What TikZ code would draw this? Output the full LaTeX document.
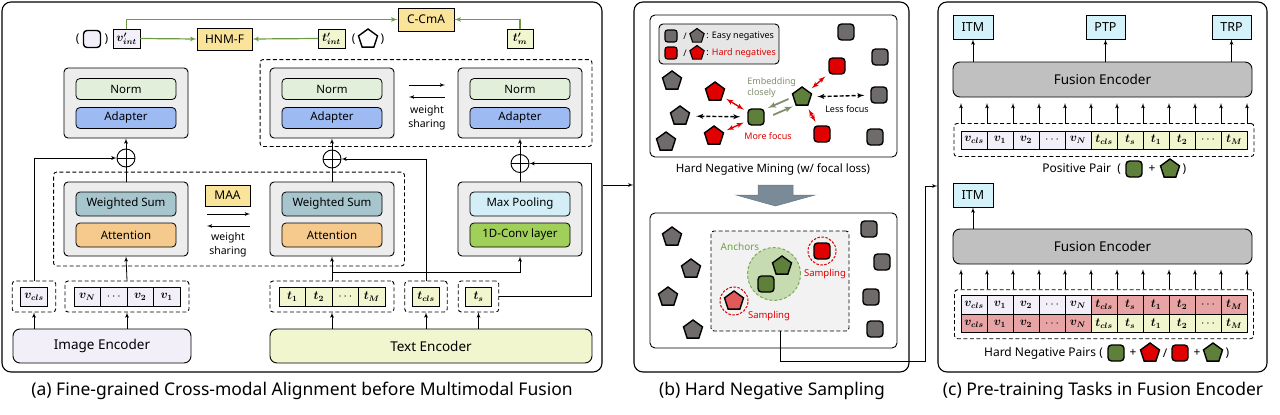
\documentclass[tikz,border=0pt]{standalone}
\usepackage{fontspec}
\setmainfont{Noto Sans}
\usepackage{bm}
\usepackage{xcolor}
\usepackage{tikz}
\usetikzlibrary{positioning,shapes,shapes.geometric,arrows,fit,calc}

\definecolor{lav}{HTML}{F3EFF8}
\definecolor{lime}{HTML}{F2F6CE}
\definecolor{gold}{HTML}{FAE49A}
\definecolor{normc}{HTML}{E2EFDA}
\definecolor{adapc}{HTML}{9DBAF2}
\definecolor{wsum}{HTML}{A7C5CD}
\definecolor{attn}{HTML}{F5CA8C}
\definecolor{maxp}{HTML}{D4EEF8}
\definecolor{conv}{HTML}{A0D05A}
\definecolor{boxg}{HTML}{EDEDED}
\definecolor{lineg}{HTML}{6E9A43}
\definecolor{easy}{HTML}{6F6B6B}
\definecolor{hard}{HTML}{E00000}
\definecolor{hardlt}{HTML}{E05A5A}
\definecolor{anch}{HTML}{5E803A}
\definecolor{ancfill}{HTML}{C6DCB0}
\definecolor{ancring}{HTML}{7FA85A}
\definecolor{anctxt}{HTML}{6FA046}
\definecolor{ancbg}{HTML}{F2F2F2}
\definecolor{legc}{HTML}{E6E6E6}
\definecolor{embc}{HTML}{808F6C}
\definecolor{pinkc}{HTML}{E8A4A4}
\definecolor{taskc}{HTML}{D4F2F9}
\definecolor{fuse}{HTML}{C0C0C0}
\definecolor{slate}{HTML}{7B8A97}

\begin{document}
\begin{tikzpicture}[x=1pt, y=-1pt, >=latex', line width=0.8pt,
  panel/.style={draw, rounded corners=9pt, line width=1.1pt, inner sep=0pt},
  grp/.style={draw, fill=boxg, rounded corners=4pt, line width=0.9pt, inner sep=0pt},
  bar/.style={draw, rounded corners=4pt, line width=0.8pt, minimum width=100pt, minimum height=21pt, inner sep=0pt, font=\fontsize{11.5}{13}\selectfont},
  dbox/.style={draw, rounded corners=3pt, line width=0.9pt, dash pattern=on 4pt off 2.5pt},
  cell/.style={draw, minimum width=26.5pt, minimum height=19pt, inner sep=0pt, outer sep=0pt, line width=0.8pt, font=\fontsize{12}{13}\selectfont},
  tag/.style={draw, fill=gold, line width=0.9pt, minimum height=22pt, inner sep=0pt, font=\bfseries\fontsize{12}{13}\selectfont},
  task/.style={draw, fill=taskc, line width=0.9pt, minimum width=40pt, minimum height=24pt, inner sep=0pt, font=\fontsize{12.5}{14}\selectfont},
  enc/.style={draw, rounded corners=7pt, line width=0.9pt, inner sep=0pt, font=\fontsize{13.5}{16}\selectfont},
  oplus/.style={draw, circle, minimum size=18pt, inner sep=0pt, line width=0.9pt,
    path picture={\draw[line width=0.9pt] (path picture bounding box.north) -- (path picture bounding box.south) (path picture bounding box.west) -- (path picture bounding box.east);}},
  sq/.style={draw, rounded corners=3.5pt, line width=1.4pt, minimum size=16pt, inner sep=0pt},
  pent/.style={regular polygon, regular polygon sides=5, draw, line width=1.4pt, minimum size=20pt, inner sep=0pt},
  ring/.style={circle, draw=hard, dash pattern=on 2.5pt off 1.5pt, line width=1pt, minimum size=28pt, inner sep=0pt},
  gline/.style={draw=lineg, line width=1.2pt},
  hardarr/.style={<->, draw=hard, line width=1.4pt, shorten <=4pt, shorten >=4pt},
  easyarr/.style={<->, line width=1.4pt, dash pattern=on 4pt off 2pt, shorten <=6pt, shorten >=6pt},
  emb/.style={->, draw=embc, line width=1.8pt},
  note/.style={font=\fontsize{9}{11}\selectfont, inner sep=1pt},
  txtM/.style={font=\fontsize{12}{14}\selectfont, inner sep=1pt},
  txtC/.style={font=\fontsize{17.5}{20}\selectfont, inner sep=1pt},
  wsh/.style={align=center, font=\fontsize{10.5}{14}\selectfont, inner sep=0pt}]

\useasboundingbox (0,0) rectangle (1280,415);

% (a) alignment before fusion
\node[panel, minimum width=600pt, minimum height=370pt] (pa) at (302,187) {};
\node[tag, minimum width=56pt, minimum height=23pt] (ccma) at (426,19.5) {C-CmA};
\node[tag, minimum width=55pt] (hnmf) at (224.5,39) {HNM-F};
\node[cell, fill=lav, minimum width=27pt] (vint) at (126.5,38.5) {$\bm{v'_{int}}$};
\node[cell, fill=lime, minimum width=27pt] (tint) at (331.5,38.5) {$\bm{t'_{int}}$};
\node[cell, fill=lime, minimum width=26pt] (tm) at (520,38.5) {$\bm{t'_{m}}$};
\node[sq, fill=lav, minimum size=17pt] (vsym) at (92,39) {};
\node[txtM, left=2pt of vsym] (vbra) {(};
\node[txtM, right=2pt of vsym] (vket) {)};
\node[pent, fill=white] (tsym) at (368,39) {};
\node[txtM, left=2pt of tsym] (tbra) {(};
\node[txtM, right=2pt of tsym] (tket) {)};

\draw[gline, ->] (vint.east) -- (hnmf.west);
\draw[gline, ->] (tint.west) -- (hnmf.east);
\draw[gline, ->] (vint.north) |- (ccma.west);
\draw[gline, ->] (tm.north) |- (ccma.east);

\foreach \n/\x in {L/126,M/332,R/520} {
  \node[grp, minimum width=124pt, minimum height=70pt] (na\n) at (\x,103) {};
  \node[bar, fill=normc] (norm\n) at (\x,89) {Norm};
  \node[bar, fill=adapc] (adap\n) at (\x,118) {Adapter};
}
\node[dbox, fit=(naM)(naR), inner xsep=9.5pt, inner ysep=8pt] (shareU) {};
\node[wsh] (wsU) at (427,118) {weight\\sharing};
\draw[->] ([shift={(-18,-33)}]wsU.center) -- ++(36,0);
\draw[<-] ([shift={(-18,-21)}]wsU.center) -- ++(36,0);

\node[oplus] (plL) at (126,158) {};
\node[oplus] (plM) at (332,159) {};
\node[oplus] (plR) at (520,163.5) {};

\foreach \n/\x/\ua/\ub/\ca/\cb in {L/126/Weighted Sum/Attention/wsum/attn, M/332/Weighted Sum/Attention/wsum/attn, R/520/Max Pooling/1D-Conv layer/maxp/conv} {
  \node[grp, minimum width=124pt, minimum height=74pt] (wa\n) at (\x,219) {};
  \node[bar, fill=\ca, minimum height=24pt] (up\n) at (\x,204) {\ua};
  \node[bar, fill=\cb, minimum height=24pt] (lo\n) at (\x,235) {\ub};
}
\node[dbox, fit=(waL)(waM), inner xsep=10pt, inner ysep=9.5pt] (shareL) {};
\node[tag, minimum width=45pt, minimum height=21pt] (maa) at (227.5,195.5) {MAA};
\node[wsh] (wsL) at (228,245) {weight\\sharing};
\draw[->] ([shift={(-21,-31)}]wsL.center) -- ++(43,0);
\draw[<-] ([shift={(-21,-19)}]wsL.center) -- ++(43,0);

\draw (waL.north) -- (plL.south);
\draw[->] (plL.north) -- (naL.south);
\draw (waM.north) -- (plM.south);
\draw[->] (plM.north) -- (naM.south);
\draw (waR.north) -- (plR.south);
\draw[->] (plR.north) -- (naR.south);

% token groups
\node[cell, fill=lav] (vcls) at (34,296.5) {$\bm{v_{cls}}$};
\node[dbox, fit=(vcls), inner xsep=8.5pt, inner ysep=6pt] (vcg) {};
\node[cell, fill=lav] (vN) at (87.25,296.5) {$\bm{v_N}$};
\node[cell, fill=lav, right=0pt of vN] (vdt) {$\cdots$};
\node[cell, fill=lav, right=0pt of vdt] (v2) {$\bm{v_2}$};
\node[cell, fill=lav, right=0pt of v2] (v1) {$\bm{v_1}$};
\node[dbox, fit=(vN)(v1), inner xsep=9pt, inner ysep=6pt] (vgrp) {};

\node[cell, fill=lime] (t1) at (292.25,296.5) {$\bm{t_1}$};
\node[cell, fill=lime, right=0pt of t1] (t2) {$\bm{t_2}$};
\node[cell, fill=lime, right=0pt of t2] (tdt) {$\cdots$};
\node[cell, fill=lime, right=0pt of tdt] (tM) {$\bm{t_M}$};
\node[dbox, fit=(t1)(tM), inner xsep=9pt, inner ysep=6pt] (tgrp) {};
\node[cell, fill=lime] (tcls) at (426,296.5) {$\bm{t_{cls}}$};
\node[dbox, fit=(tcls), inner xsep=8pt, inner ysep=6pt] (tcg) {};
\node[cell, fill=lime] (ts) at (478.5,296.5) {$\bm{t_s}$};
\node[dbox, fit=(ts), inner xsep=7pt, inner ysep=6pt] (tsg) {};

\node[enc, fill=lav, minimum width=178pt, minimum height=34pt] (imenc) at (102,346) {Image Encoder};
\node[enc, fill=lime, minimum width=322pt, minimum height=34pt] (txenc) at (431,346) {Text Encoder};

\draw[->] (imenc.north -| vcg) -- (vcg.south);
\draw[->] (imenc.north -| vgrp) -- (vgrp.south);
\draw[->] (vgrp.north) -- (waL.south);
\draw[->] (vcg.north) |- (plL.west);
\draw[->] (txenc.north -| tgrp) -- (tgrp.south);
\draw[->] (txenc.north -| tcg) -- (tcg.south);
\draw[->] (txenc.north -| tsg) -- (tsg.south);
\draw[->] (tgrp.north) -- (waM.south);
\draw[->] (tgrp.north) ++(0,-8) -| (waR.south);
\draw[->] (tcg.north) |- (plM.east);
\draw[->] (tsg.east) -- ++(92,0) |- (plR.east);

% (b) hard negative sampling
\node[panel, minimum width=275pt, minimum height=370pt] (pb) at (771.5,187) {};
\node[draw, rounded corners=5pt, line width=0.9pt, minimum width=247pt, minimum height=142pt] (minebox) at (773.5,86) {};
\node[draw, fill=legc, rounded corners=4pt, line width=0.9pt, minimum width=120pt, minimum height=40pt] (legend) at (719,44) {};
\node[sq, fill=easy, minimum size=12pt, line width=1.1pt, rounded corners=2.5pt] (lgs1) at (671,36) {};
\node[note] (lgd1) at (685,36) {\bfseries /};
\node[pent, fill=easy, minimum size=15pt, line width=1.1pt] (lgp1) at (697,36) {};
\node[note, anchor=west] (lgt1) at (705,36) {: Easy negatives};
\node[sq, fill=hard, minimum size=12pt, line width=1.1pt, rounded corners=2.5pt] (lgs2) at (671,53) {};
\node[note] (lgd2) at (685,53) {\bfseries /};
\node[pent, fill=hard, minimum size=15pt, line width=1.1pt] (lgp2) at (697,53) {};
\node[note, anchor=west] (lgt2) at (705,53) {: \textcolor{hard}{Hard negatives}};

\foreach \p [count=\i] in {(846,32),(880,57),(879,95),(875,137)} \node[sq, fill=easy] (es\i) at \p {};
\foreach \p [count=\i] in {(837,66),(822,134)} \node[sq, fill=hard] (hs\i) at \p {};
\foreach \p [count=\i] in {(672,81),(680,116),(666,142)} \node[pent, fill=easy] (ep\i) at \p {};
\foreach \p [count=\i] in {(715,92),(714,136)} \node[pent, fill=hard] (hp\i) at \p {};
\node[pent, fill=anch] (gp) at (802,97) {};
\node[sq, fill=anch] (gs) at (756,117) {};

\draw[hardarr] (hp1) -- (gs);
\draw[hardarr] (hp2) -- (gs);
\draw[easyarr, shorten <=7pt, shorten >=7pt] (ep2) -- (gs);
\draw[hardarr] (gp) -- (hs1);
\draw[hardarr] (gp) -- (hs2);
\draw[easyarr] (gp) -- (es3);
\draw[emb] ($(gp)!0.25!(gs)+(-2,-3)$) -- ($(gp)!0.7!(gs)+(-2,-3)$);
\draw[emb] ($(gs)!0.35!(gp)+(1,5)$) -- ($(gs)!0.78!(gp)+(1,5)$);

\node[note, text=embc, align=left, anchor=west] (embt) at (746,87.5) {Embedding\\closely};
\node[note] (lessf) at (847,109) {Less focus};
\node[note, text=hard] (moref) at (768,136) {More focus};
\node[txtM, font=\fontsize{11.5}{13}\selectfont] (minet) at (773,169) {Hard Negative Mining (w/ focal loss)};

\filldraw[fill=slate, draw=slate!85!black, line width=0.5pt] (758,185) -- (793,185) -- (793,195) -- (815,195) -- (775.5,206) -- (736,195) -- (758,195) -- cycle;

\node[draw, rounded corners=5pt, line width=0.9pt, minimum width=247pt, minimum height=135pt] (sampbox) at (773.5,280.5) {};
\node[draw, fill=ancbg, rounded corners=3pt, dash pattern=on 4pt off 2.5pt, line width=0.9pt, minimum width=138pt, minimum height=100pt] (ancbox) at (780,281) {};
\node[circle, draw=ancring, fill=ancfill, dash pattern=on 3pt off 2pt, line width=1pt, minimum size=53pt] (ancc) at (774,274) {};
\node[note, text=anctxt, font=\fontsize{10}{12}\selectfont] (anct) at (740,247) {Anchors};
\node[pent, fill=anch] (agp) at (782,266) {};
\node[sq, fill=anch] (ags) at (766,284) {};
\node[ring] (rg1) at (822,251) {};
\node[sq, fill=hard] (shs) at (822,251) {};
\node[note, text=hard, font=\fontsize{9.5}{11}\selectfont] (samp1) at (825,274) {Sampling};
\node[ring] (rg2) at (734,301) {};
\node[pent, fill=hardlt] (shp) at (734,301) {};
\node[note, text=hard, font=\fontsize{9.5}{11}\selectfont] (samp2) at (769,316) {Sampling};
\foreach \p [count=\i] in {(672,237),(691,269),(668,297),(693,330)} \node[pent, fill=easy] (bp\i) at \p {};
\foreach \p [count=\i] in {(869,229),(882,262),(871,297),(875,329)} \node[sq, fill=easy] (bs\i) at \p {};

% (c) pre-training tasks
\node[panel, minimum width=329pt, minimum height=370pt] (pc) at (1102.5,187) {};
\node[task] (itmA) at (973,27) {ITM};
\node[task, minimum width=39pt] (ptp) at (1105.5,27) {PTP};
\node[task, minimum width=39pt] (trp) at (1231.5,27) {TRP};
\node[enc, fill=fuse, minimum width=299pt, minimum height=35pt] (feA) at (1102.5,79.5) {Fusion Encoder};
\foreach \t in {itmA,ptp,trp} \draw[->] (feA.north -| \t) -- (\t.south);

\foreach \lab/\col [count=\i] in {\bm{v_{cls}}/lav,\bm{v_1}/lav,\bm{v_2}/lav,\cdots/lav,\bm{v_N}/lav,\bm{t_{cls}}/lime,\bm{t_s}/lime,\bm{t_1}/lime,\bm{t_2}/lime,\cdots/lime,\bm{t_M}/lime}
  \node[cell, fill=\col, minimum width=26pt, minimum height=18pt] (pos\i) at ({961+26*(\i-0.5)},140) {$\lab$};
\node[dbox, fit=(pos1)(pos11), inner xsep=7pt, inner ysep=7.5pt] (posg) {};
\foreach \i in {0,...,11} \draw[->] ($(posg.north -| pos1.west)+(\i*26,0)$) -- ++(0,-20);

\node[sq, fill=anch] (posq) at (1134,169) {};
\node[txtM, left=3pt of posq] (posl) {Positive Pair \ (};
\node[txtM] (posplus) at (1152,169) {+};
\node[pent, fill=anch] (pospt) at (1170,169) {};
\node[txtM, right=2pt of pospt] (posr) {)};

\node[task] (itmB) at (973,195) {ITM};
\node[enc, fill=fuse, minimum width=299pt, minimum height=35pt] (feB) at (1102.5,246.5) {Fusion Encoder};
\draw[->] (feB.north -| itmB) -- (itmB.south);

\foreach \lab/\ca/\cb [count=\i] in {\bm{v_{cls}}/lav/pinkc,\bm{v_1}/lav/pinkc,\bm{v_2}/lav/pinkc,\cdots/lav/pinkc,\bm{v_N}/lav/pinkc,\bm{t_{cls}}/pinkc/lime,\bm{t_s}/pinkc/lime,\bm{t_1}/pinkc/lime,\bm{t_2}/pinkc/lime,\cdots/pinkc/lime,\bm{t_M}/pinkc/lime} {
  \node[cell, fill=\ca, minimum width=26pt, minimum height=18.5pt] (ng\i) at ({961+26*(\i-0.5)},305) {$\lab$};
  \node[cell, fill=\cb, minimum width=26pt, minimum height=18.5pt] (nh\i) at ({961+26*(\i-0.5)},323.5) {$\lab$};
}
\node[dbox, fit=(ng1)(nh11), inner xsep=6.5pt, inner ysep=6pt] (negg) {};
\foreach \i in {0,...,11} \draw[->] ($(negg.north -| ng1.west)+(\i*26,0)$) -- ++(0,-20);

\node[sq, fill=anch] (ngq1) at (1116,353) {};
\node[txtM, left=3pt of ngq1] (ngl) {Hard Negative Pairs (};
\node[txtM] (ngplus1) at (1133,353) {+};
\node[pent, fill=hard] (ngp1) at (1150,353) {};
\node[txtM] (ngsl) at (1165,353) {/};
\node[sq, fill=hard] (ngq2) at (1180,353) {};
\node[txtM] (ngplus2) at (1197,353) {+};
\node[pent, fill=anch] (ngp2) at (1213,353) {};
\node[txtM, right=2pt of ngp2] (ngr) {)};

% panel links
\coordinate (ab) at (618,185);
\draw[->] (pa.east |- ab) -- (pb.west |- ab);
\coordinate (bc) at (925,186);
\draw[->] (ancbox.south) -- ++(0,30) -| (bc) -- (pc.west |- bc);

% captions
\node[txtC] (capa) at (302,391) {(a) Fine-grained Cross-modal Alignment before Multimodal Fusion};
\node[txtC] (capb) at (772,391) {(b) Hard Negative Sampling};
\node[txtC] (capc) at (1103,391) {(c) Pre-training Tasks in Fusion Encoder};
\end{tikzpicture}
\end{document}
